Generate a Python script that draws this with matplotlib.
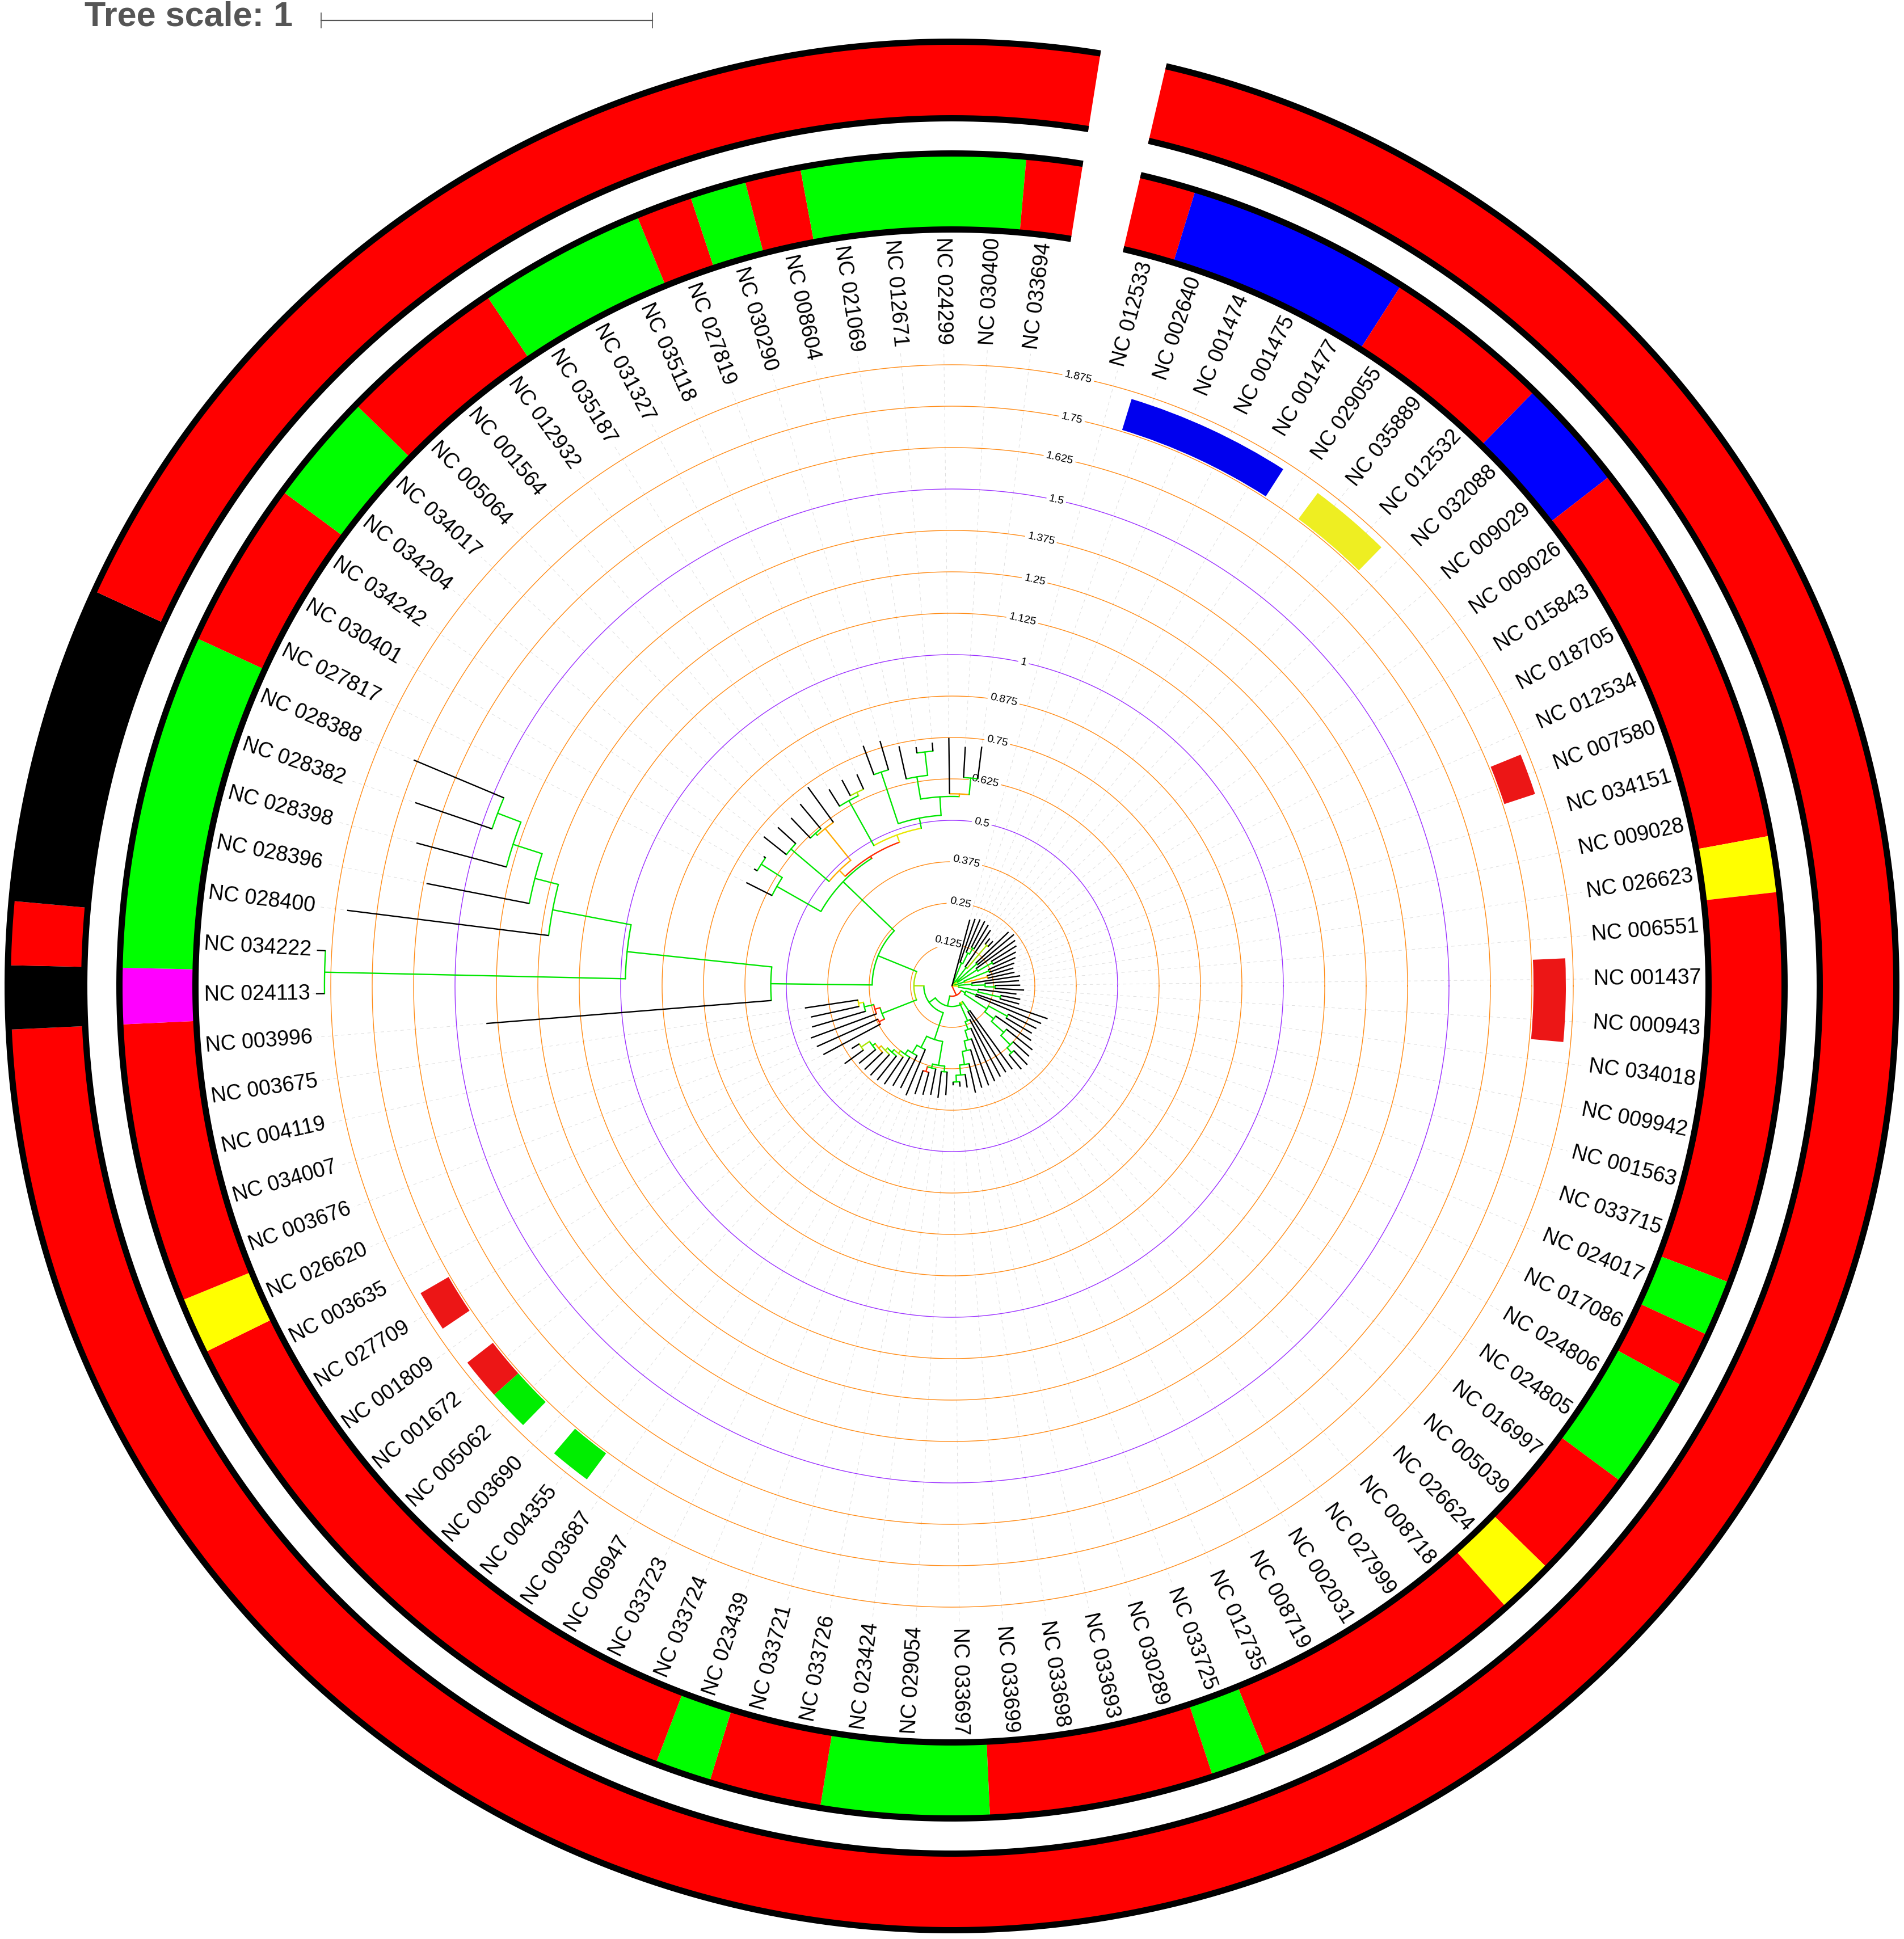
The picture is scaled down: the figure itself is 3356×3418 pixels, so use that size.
import numpy as np
import matplotlib.pyplot as plt
from matplotlib.patches import Wedge

plt.rcParams['font.family'] = ['Liberation Sans', 'DejaVu Sans']

# leaf labels, clockwise from the gap at the top
leaf_ids = [
    "NC 012533", "NC 002640", "NC 001474", "NC 001475", "NC 001477",
    "NC 029055", "NC 035889", "NC 012532", "NC 032088", "NC 009029",
    "NC 009026", "NC 015843", "NC 018705", "NC 012534", "NC 007580",
    "NC 034151", "NC 009028", "NC 026623", "NC 006551", "NC 001437",
    "NC 000943", "NC 034018", "NC 009942", "NC 001563", "NC 033715",
    "NC 024017", "NC 017086", "NC 024806", "NC 024805", "NC 016997",
    "NC 005039", "NC 026624", "NC 008718", "NC 027999", "NC 002031",
    "NC 008719", "NC 012735", "NC 033725", "NC 030289", "NC 033693",
    "NC 033698", "NC 033699", "NC 033697", "NC 029054", "NC 023424",
    "NC 033726", "NC 033721", "NC 023439", "NC 033724", "NC 033723",
    "NC 006947", "NC 003687", "NC 004355", "NC 003690", "NC 005062",
    "NC 001672", "NC 001809", "NC 027709", "NC 003635", "NC 026620",
    "NC 003676", "NC 034007", "NC 004119", "NC 003675", "NC 003996",
    "NC 024113", "NC 034222", "NC 028400", "NC 028396", "NC 028398",
    "NC 028382", "NC 028388", "NC 027817", "NC 030401", "NC 034242",
    "NC 034204", "NC 034017", "NC 005064", "NC 001564", "NC 012932",
    "NC 035187", "NC 031327", "NC 035118", "NC 027819", "NC 030290",
    "NC 008604", "NC 021069", "NC 012671", "NC 024299", "NC 030400",
    "NC 033694",
]

# one code per leaf for the two outlined rings
inner_ring = ("RBBBBRRRBB" "RRRRRRRYRR" "RRRRRGRGGR" "RYRRRRRGRR" "RRGGGRRGRR"
              "RRRRRRRRRY" "RRRRRMGGGG" "GGRRRGGRRR" "GGGRGRGGGG" "R")
outer_ring = ("RRRRRRRRRR" "RRRRRRRRRR" "RRRRRRRRRR" "RRRRRRRRRR" "RRRRRRRRRR"
              "RRRRRRRRRR" "RRRRRKRKKK" "KKRRRRRRRR" "RRRRRRRRRR" "R")

# small colour strip inside the labels
strip_leaves = [2, 3, 4, 5, 7, 8, 15, 20, 21, 53, 55, 56, 58]
strip_codes = "BBBBYYRRRGGRR"

scale_ticks = [0.125, 0.25, 0.375, 0.5, 0.625, 0.75, 0.875, 1.0,
               1.125, 1.25, 1.375, 1.5, 1.625, 1.75, 1.875]

# tree pieces: leaf number : distance from root, internal nodes ")c:dist" with a colour code
clade_dengue = "(2:0.214,(3:0.218,(4:0.219,5:0.214)g:0.13)g:0.11)g:0.075"
clade_zika = "(6:0.205,(7:0.183,8:0.183)l:0.161)g:0.07"
clade_9_13 = "((9:0.236,10:0.243)g:0.10,(11:0.235,(12:0.229,13:0.218)g:0.14)g:0.09)y:0.02"
clade_14_17 = "((14:0.21,15:0.20)g:0.12,(16:0.193,17:0.193)o:0.11)g:0.04"
clade_18_24 = ("((18:0.208,(19:0.203,(20:0.206,21:0.218)g:0.13)g:0.10)g:0.06,"
               "(22:0.196,(23:0.21,24:0.21)g:0.15)g:0.08)y:0.02")
clade_25_33 = ("((25:0.305,26:0.292)g:0.077,((27:0.285,28:0.28)g:0.19,(29:0.29,(30:0.31,"
               "(31:0.315,(32:0.329,33:0.327)g:0.27)g:0.25)g:0.21)g:0.16)g:0.126)g:0.045")
clade_34_43 = ("((34:0.31,35:0.307)g:0.091,(36:0.31,(37:0.315,(38:0.32,(39:0.32,(40:0.33,"
               "(41:0.31,(42:0.305,43:0.30)g:0.29)g:0.27)g:0.24)g:0.20)g:0.17)g:0.14)g:0.115)y:0.057")
clade_44_48 = "((44:0.33,45:0.34)g:0.26,(46:0.335,(47:0.34,48:0.345)r:0.27)g:0.255)g:0.243"
clade_49_58 = ("(49:0.358,(50:0.345,(51:0.35,(52:0.36,(53:0.363,(54:0.365,(55:0.365,(56:0.365,"
               "(57:0.40,58:0.357)l:0.33)g:0.30)o:0.29)l:0.28)g:0.27)l:0.26)g:0.25)g:0.235)g:0.208")
clade_59_64 = ("((59:0.44,60:0.447)r:0.245,(61:0.454,(62:0.44,(63:0.436,64:0.449)y:0.287)"
               "g:0.272)r:0.243)g:0.227")
clade_65_72 = ("(65:1.41,((66:1.92,67:1.92)g:1.894,(68:1.84,(69:1.616,(70:1.673,"
               "(71:1.712,72:1.762)g:1.467)g:1.392)g:1.30)g:1.227)g:0.986)g:0.547")
clade_73_75 = "(73:0.695,(74:0.694,75:0.69)g:0.683)g:0.608"
clade_76_80 = "((76:0.725,77:0.711)g:0.638,((78:0.702,79:0.715)g:0.618,80:0.741)o:0.61)o:0.487"
clade_81_91 = ("((81:0.70,(82:0.705,83:0.70)l:0.651)g:0.64,((84:0.773,85:0.771)g:0.68,"
               "((86:0.741,(87:0.729,88:0.737)g:0.711)g:0.64,(89:0.749,(90:0.723,91:0.728)"
               "g:0.63)o:0.58)g:0.572)g:0.516)y:0.485")

node_a3 = f"({clade_76_80},{clade_81_91})r:0.462"
node_a2 = f"({clade_73_75},{node_a3})g:0.455"
node_x = f"({clade_65_72},{node_a2})g:0.241"
node_y = f"({clade_59_64},{node_x})l:0.115"
node_v = f"({clade_44_48},{clade_49_58})g:0.17"
node_z = f"({node_v},{node_y})g:0.085"
node_u = f"({clade_34_43},{node_z})g:0.062"
node_p = f"({clade_25_33},{node_u})r:0.031"
tree_nwk = f"(1:0.207,{clade_dengue},{clade_zika},{clade_9_13},{clade_14_17},{clade_18_24},{node_p})"

ring_colors = {"R": "#ff0000", "B": "#0000ff", "G": "#00ff00", "Y": "#ffff00",
               "M": "#ff00ff", "K": "#000000"}
strip_colors = {"R": "#ec1616", "B": "#0000ee", "G": "#00ee00", "Y": "#eeee22"}
branch_colors = {"g": "#00e600", "l": "#a8e600", "y": "#e8e600", "o": "#ffaa00", "r": "#ff2a00"}

W, H = 3356, 3418
cx, cy = 1678, H - 1738
unit = 584.0
a0, step = 76.9, 3.9115
n = len(leaf_ids)
label_r = 1131


def leaf_angle(k):
    return a0 - (k - 0.5) * step


def xy(r, a):
    t = np.radians(a)
    return cx + r * np.cos(t), cy + r * np.sin(t)


def parse(s):
    pos = 0

    def read():
        nonlocal pos
        node = {}
        if s[pos] == "(":
            pos += 1
            kids = [read()]
            while s[pos] == ",":
                pos += 1
                kids.append(read())
            pos += 1
            node["kids"] = kids
            code = ""
            while pos < len(s) and s[pos] not in ":,)":
                code += s[pos]
                pos += 1
            node["code"] = code or "g"
        else:
            start = pos
            while s[pos] not in ":,)":
                pos += 1
            node["leaf"] = int(s[start:pos])
        node["d"] = 0.0
        if pos < len(s) and s[pos] == ":":
            pos += 1
            start = pos
            while pos < len(s) and s[pos] not in ",)":
                pos += 1
            node["d"] = float(s[start:pos])
        return node

    return read()


def set_angles(node):
    if "leaf" in node:
        node["a"] = leaf_angle(node["leaf"])
    else:
        for k in node["kids"]:
            set_angles(k)
        node["a"] = (node["kids"][0]["a"] + node["kids"][-1]["a"]) / 2


def runs(codes):
    out = []
    start = 0
    for i in range(1, len(codes) + 1):
        if i == len(codes) or codes[i] != codes[start]:
            out.append((start + 1, i, codes[start]))
            start = i
    return out


fig = plt.figure(figsize=(W / 100, H / 100), dpi=100)
ax = fig.add_axes([0, 0, 1, 1])
ax.set_xlim(0, W)
ax.set_ylim(0, H)
ax.axis('off')

# scale circles
th = np.linspace(0, 2 * np.pi, 1441)
for v in scale_ticks:
    r = v * unit
    col = '#9b30ff' if abs(v * 2 - round(v * 2)) < 1e-9 else '#ff8a14'
    ax.plot(cx + r * np.cos(th), cy + r * np.sin(th), color=col, lw=1.0, zorder=1)
    x, y = xy(r, 77.0)
    ax.text(x, y, f"{v:g}", fontsize=14, ha='right', va='center', rotation=-13,
            rotation_mode='anchor', zorder=2,
            bbox=dict(facecolor='white', edgecolor='none', pad=3))

# tree
tree = parse(tree_nwk)
set_angles(tree)
tips = {}


def draw(node, parent_d, is_root=False):
    r0, r1 = parent_d * unit, node["d"] * unit
    if "leaf" in node:
        tips[node["leaf"]] = r1
        x0, y0 = xy(r0, node["a"])
        x1, y1 = xy(r1, node["a"])
        ax.plot([x0, x1], [y0, y1], color='black', lw=1.7, solid_capstyle='butt', zorder=5)
        return
    col = branch_colors[node["code"]]
    if not is_root:
        x0, y0 = xy(r0, node["a"])
        x1, y1 = xy(r1, node["a"])
        ax.plot([x0, x1], [y0, y1], color=col, lw=1.7, solid_capstyle='round', zorder=4)
    if r1 > 0:
        aa = np.radians(np.linspace(node["kids"][0]["a"], node["kids"][-1]["a"], 200))
        ax.plot(cx + r1 * np.cos(aa), cy + r1 * np.sin(aa), color=col, lw=1.7,
                solid_capstyle='round', zorder=4)
    for k in node["kids"]:
        draw(k, node["d"])


draw(tree, 0.0, is_root=True)

# dashed guides from tips to labels
for k in range(1, n + 1):
    a = leaf_angle(k)
    x0, y0 = xy(tips[k] + 6, a)
    x1, y1 = xy(label_r - 8, a)
    ax.plot([x0, x1], [y0, y1], color='#dedede', lw=0.7, linestyle=(0, (6, 6)), zorder=0.5)

# leaf labels
for k in range(1, n + 1):
    a = leaf_angle(k)
    an = (a + 180) % 360 - 180
    x, y = xy(label_r, a)
    if -90 < an < 90:
        rot, ha = an, 'left'
    else:
        rot, ha = (an - 180 if an > 0 else an + 180), 'right'
    ax.text(x, y, leaf_ids[k - 1], fontsize=27, rotation=rot, rotation_mode='anchor',
            ha=ha, va='center', zorder=6)

# colour strip
strip = [" "] * n
for k, c in zip(strip_leaves, strip_codes):
    strip[k - 1] = c
for k1, k2, c in runs("".join(strip)):
    if c == " ":
        continue
    hi = a0 - (k1 - 1) * step
    lo = a0 - k2 * step
    ax.add_patch(Wedge((cx, cy), 1082, lo, hi, width=57, facecolor=strip_colors[c],
                       edgecolor='none', lw=0, zorder=3))

# outlined rings
for codes, r_in, r_out in [(inner_ring, 1328, 1473), (outer_ring, 1524, 1670)]:
    for k1, k2, c in runs(codes):
        hi = a0 - (k1 - 1) * step
        lo = a0 - k2 * step
        ax.add_patch(Wedge((cx, cy), r_out - 3, lo, hi, width=r_out - r_in - 6,
                           facecolor=ring_colors[c], edgecolor='none', lw=0, zorder=3))
    aa = np.radians(np.linspace(a0, a0 - n * step, 2000))
    for r in (r_in + 5.5, r_out - 5.5):
        ax.plot(cx + r * np.cos(aa), cy + r * np.sin(aa), color='black', lw=7.9,
                solid_capstyle='butt', zorder=4)

# tree scale
ax.text(149, H - 45, "Tree scale: 1", fontsize=44, fontweight='bold', color='#555555',
        ha='left', va='baseline')
bx0, bx1, by = 566, 566 + unit, H - 35.5
ax.plot([bx0, bx1], [by, by], color='#555555', lw=1.6)
for bx in (bx0, bx1):
    ax.plot([bx, bx], [by - 13, by + 13], color='#555555', lw=1.2)

fig.savefig('out.png', dpi=100, facecolor='white')
